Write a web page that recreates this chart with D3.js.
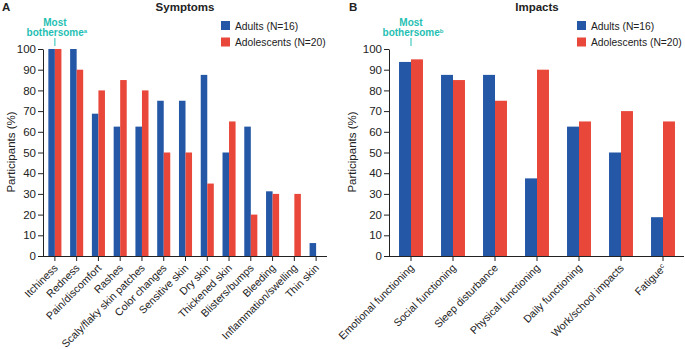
<!DOCTYPE html>
<html>
<head>
<meta charset="utf-8">
<script src="https://cdn.jsdelivr.net/npm/d3@7"></script>
<style>
	body { margin: 0; background: #fff; }
	text { font-family: 'Liberation Sans', Arial, sans-serif; fill: #222; }
	.axis path, .axis line { stroke: #222; }
</style>
</head>
<body>
<script>
const seriesNames = ['Adults (N=16)', 'Adolescents (N=20)']
const colors = ['#2457a6', '#e8473a']
const yTicks = [0, 10, 20, 30, 40, 50, 60, 70, 80, 90, 100]

const symptomCategories = ['Itchiness', 'Redness', 'Pain/discomfort', 'Rashes', 'Scaly/flaky skin patches',
	'Color changes', 'Sensitive skin', 'Dry skin', 'Thickened skin', 'Blisters/bumps', 'Bleeding',
	'Inflammation/swelling', 'Thin skin']
const symptomAdults = [100, 100, 68.75, 62.5, 62.5, 75, 75, 87.5, 50, 62.5, 31.25, 0, 6.25]
const symptomAdolescents = [100, 90, 80, 85, 80, 50, 50, 35, 65, 20, 30, 30, 0]

const impactCategories = ['Emotional functioning', 'Social functioning', 'Sleep disturbance',
	'Physical functioning', 'Daily functioning', 'Work/school impacts', 'Fatigue']
const impactAdults = [93.75, 87.5, 87.5, 37.5, 62.5, 50, 18.75]
const impactAdolescents = [95, 85, 75, 90, 65, 70, 65]

const svg = d3.select('body')
	.append('svg')
	.attr('width', 685)
	.attr('height', 349)

const y = d3.scaleLinear()
	.domain([0, 100])
	.range([256, 49])

const drawPanel = (p) => {
	const rows = p.categories.map((c, i) => ({ cat: c, vals: [p.adults[i], p.adolescents[i]] }))

	const x = d3.scaleBand()
		.domain(p.categories)
		.range(p.range)
		.paddingInner(p.pad)
		.paddingOuter(p.pad / 2)

	const xs = d3.scaleBand()
		.domain([0, 1])
		.range([0, x.bandwidth()])

	const g = svg.append('g')

	g.selectAll('g.group')
		.data(rows)
		.enter()
		.append('g')
		.attr('class', 'group')
		.attr('transform', d => `translate(${x(d.cat)},0)`)
		.selectAll('rect')
		.data(d => d.vals)
		.enter()
		.append('rect')
		.attr('x', (d, i) => xs(i))
		.attr('y', d => y(d))
		.attr('width', xs.bandwidth())
		.attr('height', d => y(0) - y(d))
		.style('fill', (d, i) => colors[i])

	// y axis
	g.append('g')
		.attr('class', 'axis')
		.attr('transform', `translate(${p.range[0] - 1},0)`)
		.call(d3.axisLeft(y).tickValues(yTicks).tickSize(5).tickSizeOuter(0).tickPadding(2))
		.call(a => a.selectAll('text').style('font-size', '11.5px'))

	// x axis
	const xa = g.append('g')
		.attr('class', 'axis')
		.attr('transform', `translate(0,${y(0)})`)
		.call(d3.axisBottom(x).tickSize(5).tickSizeOuter(0))
	xa.select('.domain').attr('d', `M${p.range[0] - 4},0.5H${p.range[1]}`)
	xa.selectAll('text')
		.attr('x', 0)
		.attr('y', 0)
		.attr('dy', '0.35em')
		.attr('text-anchor', 'end')
		.attr('transform', 'translate(1,10) rotate(-45)')
		.style('font-size', '10.6px')
	if (p.sup) {
		xa.selectAll('text')
			.filter(d => d === p.sup.cat)
			.append('tspan')
			.attr('dy', '-0.45em')
			.style('font-size', '7px')
			.text(p.sup.mark)
	}

	// labels
	svg.append('text')
		.attr('x', p.letterX)
		.attr('y', 11)
		.style('font-weight', 'bold')
		.style('font-size', '11.5px')
		.text(p.letter)

	svg.append('text')
		.attr('x', p.titleX)
		.attr('y', 11)
		.attr('text-anchor', 'middle')
		.style('font-weight', 'bold')
		.style('font-size', '11.5px')
		.text(p.title)

	svg.append('text')
		.attr('transform', `translate(${p.yLabelX},152) rotate(-90)`)
		.attr('text-anchor', 'middle')
		.style('font-size', '11.5px')
		.text('Participants (%)')

	// most bothersome note
	const cx = x(p.categories[0]) + x.bandwidth() / 2
	const note = svg.append('text')
		.attr('text-anchor', 'middle')
		.style('font-weight', 'bold')
		.style('font-size', '10px')
		.style('fill', '#1fc0b3')
	note.append('tspan').attr('x', cx).attr('y', 26).text('Most')
	const l2 = note.append('tspan').attr('x', cx + 2).attr('y', 35.5).text('bothersome')
	l2.append('tspan').attr('dy', '-0.4em').style('font-size', '6px').text(p.noteMark)
	svg.append('line')
		.attr('x1', cx).attr('x2', cx)
		.attr('y1', 38).attr('y2', 46)
		.style('stroke', '#1fc0b3')

	// legend
	const leg = svg.append('g')
		.attr('transform', `translate(${p.legendX},21)`)
	seriesNames.forEach((s, i) => {
		leg.append('rect')
			.attr('x', 0)
			.attr('y', i * 16.5)
			.attr('width', 9)
			.attr('height', 9)
			.style('fill', colors[i])
		leg.append('text')
			.attr('x', 14)
			.attr('y', i * 16.5 + 8.5)
			.style('font-size', '10.3px')
			.text(s)
	})
}

drawPanel({
	categories: symptomCategories,
	adults: symptomAdults,
	adolescents: symptomAdolescents,
	range: [44, 327],
	pad: 0.4,
	letter: 'A', letterX: 2, title: 'Symptoms', titleX: 185,
	yLabelX: 15, legendX: 221, noteMark: 'a'
})

drawPanel({
	categories: impactCategories,
	adults: impactAdults,
	adolescents: impactAdolescents,
	range: [390, 684],
	pad: 0.43,
	letter: 'B', letterX: 349, title: 'Impacts', titleX: 537,
	yLabelX: 356, legendX: 577, noteMark: 'b',
	sup: { cat: 'Fatigue', mark: 'c' }
})
</script>
</body>
</html>
